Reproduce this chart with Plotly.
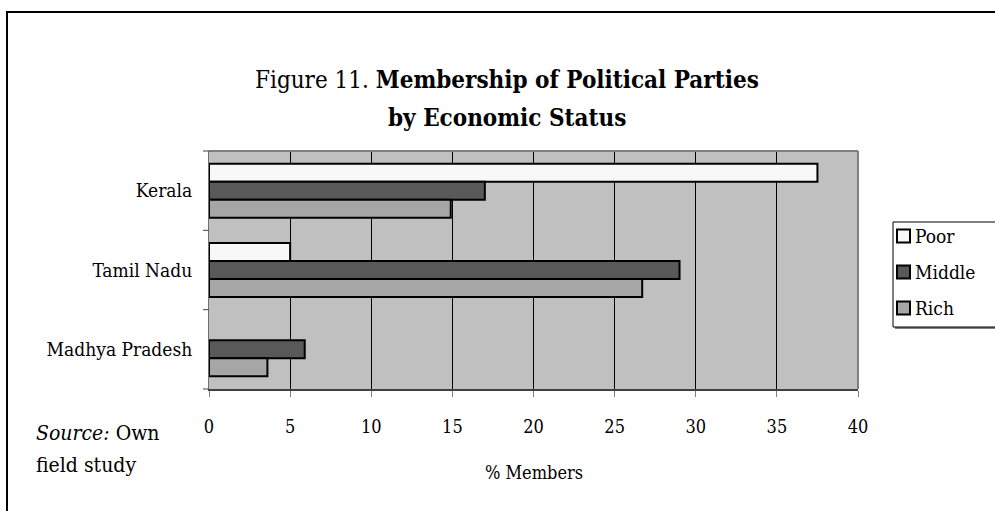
import plotly.graph_objects as go

# Data
states = ["Kerala", "Tamil Nadu", "Madhya Pradesh"]
poor = [37.5, 5.0, 0.0]
middle = [17.0, 29.0, 5.9]
rich = [14.9, 26.7, 3.6]
x_ticks = [0, 5, 10, 15, 20, 25, 30, 35, 40]

FIG_W, FIG_H = 995, 511
L, R, T, B = 209, 137, 151, 122
PW, PH = FIG_W - L - R, FIG_H - T - B


def px_x(px):
    return (px - L) / PW


def px_y(py):
    return (FIG_H - B - py) / PH


SERIF = "DejaVu Serif Condensed, DejaVu Serif, serif"

fig = go.Figure()
series = [("Poor", poor, "#f8f8f8"), ("Middle", middle, "#595959"), ("Rich", rich, "#a6a6a6")]
for name, vals, col in series:
    fig.add_trace(go.Bar(
        y=states, x=vals, name=name, orientation="h",
        marker=dict(color=col,
                    line=dict(color="black", width=[2 if v > 0 else 0 for v in vals])),
    ))

fig.update_layout(
    width=FIG_W, height=FIG_H,
    margin=dict(l=L, r=R, t=T, b=B),
    paper_bgcolor="white", plot_bgcolor="#c0c0c0",
    barmode="group", bargap=0.32, bargroupgap=0,
    font=dict(family=SERIF, size=18, color="black"),
    showlegend=False,
    xaxis=dict(
        range=[0, 40], tickvals=x_ticks, showgrid=True, gridcolor="black", gridwidth=1,
        ticks="outside", ticklen=6, tickcolor="#808080", ticklabelstandoff=14,
        showline=True, linecolor="#404040", linewidth=2, zeroline=False,
        tickfont=dict(size=18),
    ),
    yaxis=dict(
        autorange="reversed", showgrid=False, ticks="", showline=True,
        linecolor="#707070", linewidth=1, ticklabelstandoff=12,
        tickfont=dict(size=19),
    ),
)

# category separator ticks on the value axis
for k in range(4):
    yy = px_y(T + k * PH / 3)
    fig.add_shape(type="line", xref="paper", yref="paper",
                  x0=px_x(203), x1=px_x(209), y0=yy, y1=yy,
                  line=dict(color="#404040", width=1))

# plot area frame (top and right)
fig.add_shape(type="line", xref="paper", yref="paper", x0=0, x1=1, y0=1, y1=1,
              line=dict(color="#808080", width=2))
fig.add_shape(type="line", xref="paper", yref="paper", x0=1, x1=1, y0=0, y1=1,
              line=dict(color="#808080", width=2))

# outer chart frame
fig.add_shape(type="rect", xref="paper", yref="paper",
              x0=px_x(7), x1=px_x(1010), y0=px_y(12), y1=px_y(530),
              line=dict(color="black", width=2), fillcolor="rgba(0,0,0,0)", layer="below")

# legend box with drop shadow, keyed to the series colours
fig.add_shape(type="rect", xref="paper", yref="paper",
              x0=px_x(895), x1=px_x(1010), y0=px_y(224), y1=px_y(329),
              line=dict(width=0), fillcolor="#808080")
fig.add_shape(type="rect", xref="paper", yref="paper",
              x0=px_x(893), x1=px_x(1008), y0=px_y(222), y1=px_y(327),
              line=dict(color="black", width=1), fillcolor="white")
for i, (name, vals, col) in enumerate(series):
    cy = 236 + 36 * i
    fig.add_shape(type="rect", xref="paper", yref="paper",
                  x0=px_x(897), x1=px_x(910), y0=px_y(cy - 6.5), y1=px_y(cy + 6.5),
                  line=dict(color="black", width=2), fillcolor=col)
    fig.add_annotation(text=name, x=px_x(913), y=px_y(cy), xref="paper", yref="paper",
                       xanchor="left", yanchor="middle", showarrow=False,
                       font=dict(family=SERIF, size=19, color="black"))

ann = [
    dict(text="Figure 11. <b>Membership of Political Parties</b>", x=px_x(507), y=px_y(80), size=24),
    dict(text="<b>by Economic Status</b>", x=px_x(507), y=px_y(117), size=24),
    dict(text="% Members", x=0.5, y=px_y(472), size=18),
]
for a in ann:
    fig.add_annotation(text=a["text"], x=a["x"], y=a["y"], xref="paper", yref="paper",
                       xanchor="center", yanchor="middle", showarrow=False,
                       font=dict(family=SERIF, size=a["size"], color="black"))

for txt, yy in [("<i>Source:</i> Own", 433), ("field study", 465)]:
    fig.add_annotation(text=txt, x=px_x(34), y=px_y(yy), xref="paper", yref="paper",
                       xanchor="left", yanchor="middle", showarrow=False,
                       font=dict(family=SERIF, size=21, color="black"))

fig.write_html("out.html")
